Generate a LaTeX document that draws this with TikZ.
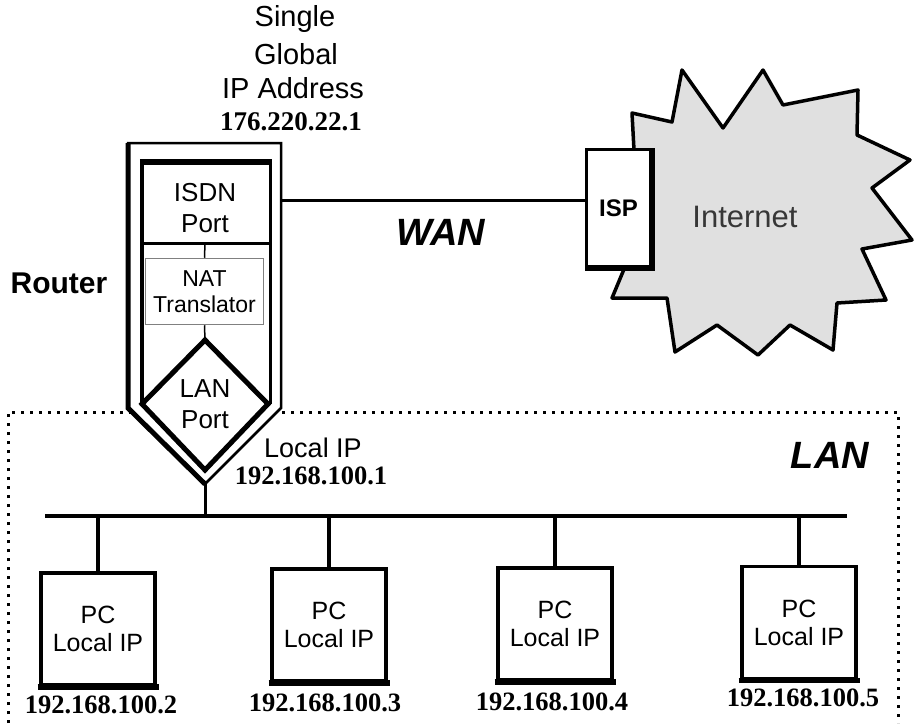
\documentclass[tikz,border=0pt]{standalone}
\usepackage{fontspec}
\setmainfont{Liberation Serif}
\setsansfont{Liberation Sans}
\definecolor{cloudgray}{RGB}{224,224,224}
\definecolor{txtgray}{RGB}{55,55,55}
\begin{document}
\begin{tikzpicture}[x=1pt,y=-1pt,
  sflabel/.style={font=\sffamily\fontsize{26}{31}\selectfont, align=center, inner sep=0pt},
  toplabel/.style={font=\sffamily\fontsize{29}{31}\selectfont, inner sep=0pt},
  iplabel/.style={font=\bfseries\fontsize{26.5}{28}\selectfont, inner sep=0pt},
  biglabel/.style={font=\sffamily\bfseries\itshape\fontsize{38}{40}\selectfont, inner sep=0pt},
  pcbox/.style={draw, line width=3.5pt, fill=white, minimum width=114pt, minimum height=112pt,
     align=center, inner sep=0pt, font=\sffamily\fontsize{25}{28}\selectfont},
  lanedge/.style={line width=3pt, dash pattern=on 3pt off 6pt},
  wire/.style={line width=3pt},
  buswire/.style={line width=4pt}]
\useasboundingbox (0,0) rectangle (915,723);

% LAN dotted frame
\coordinate (lanBL) at (8,723);
\coordinate (lanTL) at (8,412);
\coordinate (lanTR) at (898,412);
\coordinate (lanBR) at (898,723);
\draw[lanedge] (lanBL) -- (lanTL) -- (lanTR) -- (lanBR);

% Internet cloud
\filldraw[fill=cloudgray, line width=3.5pt, line join=round]
  (632,113) -- (672,122) -- (682,70) -- (723,128) -- (763,70) -- (783,105) -- (858,90)
  -- (857,135) -- (910,160) -- (872,188) -- (912,240) -- (862,249) -- (886,300)
  -- (837,303) -- (833,350) -- (790,325) -- (758,355) -- (717,325) -- (675,352)
  -- (667,298) -- (612,298) -- (627,262) -- (634,150) -- cycle;
\node[font=\sffamily\fontsize{31}{34}\selectfont, text=txtgray, inner sep=0pt] (internet) at (745,217) {Internet};

% ISP box
\node[draw, line width=3pt, fill=white, minimum width=64pt, minimum height=117pt,
      inner sep=0pt, font=\sffamily\bfseries\fontsize{24}{26}\selectfont] (isp) at (618.5,208) {ISP};
\draw[line width=5pt] (isp.north east) -- (isp.south east) -- (isp.south west);

% Router outer shell
\coordinate (rTL) at (128,143);
\coordinate (rTR) at (281,143);
\coordinate (rRB) at (281,408);
\coordinate (rBot) at (205,484);
\coordinate (rLB) at (128,408);
\filldraw[fill=white, line width=2.5pt, line join=miter] (rTL) -- (rTR) -- (rRB) -- (rBot) -- (rLB) -- cycle;
\draw[line width=5pt, line join=miter] (rTL) -- (rLB) -- (rBot);

% Router inner shell
\coordinate (iTL) at (142,162);
\coordinate (iTR) at (270,162);
\coordinate (iLB) at (142,404);
\coordinate (iRB) at (270,404);
\draw[line width=3pt] (iRB) -- (iTR);
\draw[line width=4.5pt] (iLB) -- (iTL);
\draw[line width=5.5pt] ([xshift=-2.25pt]iTL) -- ([xshift=1.5pt]iTR);
\coordinate (divL) at (142,243);
\coordinate (divR) at (270,243);
\coordinate (divM) at (205,243);
\draw[wire] (divL) -- (divR);
\node[sflabel] (isdn) at (205,208) {ISDN\\Port};

% NAT translator
\node[draw=gray, line width=1.5pt, minimum width=118pt, minimum height=66pt, inner sep=0pt,
      align=center, font=\sffamily\fontsize{23}{26}\selectfont] (nat) at (204.5,291.5) {NAT\\Translator};
\draw[line width=1.5pt] (divM) -- (nat.north);

% LAN port diamond
\coordinate (dT) at (205,340);
\coordinate (dR) at (268,404);
\coordinate (dB) at (205,470);
\coordinate (dL) at (142,404);
\draw[line width=5pt, line join=miter] (dT) -- (dR) -- (dB) -- (dL) -- cycle;
\draw[line width=1.5pt] (nat.south) -- (dT);
\node[sflabel] (lanport) at (205,404) {LAN\\Port};

% top labels
\node[toplabel] (single) at (295,19) {Single};
\node[toplabel] (global) at (296,54) {Global};
\node[toplabel] (ipaddr) at (293,88) {IP Address};
\node[iplabel, font=\bfseries\fontsize{27}{28}\selectfont] (gip) at (291,122) {176.220.22.1};
\node[font=\sffamily\bfseries\fontsize{30}{32}\selectfont, inner sep=0pt] (router) at (59,283) {Router};

% WAN link
\coordinate (rWan) at (281,200);
\draw[wire] (rWan) -- (rWan -| isp.west);
\node[biglabel] (wan) at (441,232) {WAN};
\node[biglabel] (lan) at (830,455) {LAN};

% router local IP
\node[sflabel, font=\sffamily\fontsize{27}{31}\selectfont] (locip) at (313,448) {Local IP};
\node[iplabel] (rip) at (311,476) {192.168.100.1};

% bus
\coordinate (busL) at (45,516);
\coordinate (busR) at (847,516);
\draw[buswire] (busL) -- (busR);
\draw[wire] (rBot) -- (rBot |- busL);

% PCs
\node[pcbox] (pc1) at (98,629) {PC\\Local IP};
\node[pcbox] (pc2) at (329,625) {PC\\Local IP};
\node[pcbox] (pc3) at (555,624) {PC\\Local IP};
\node[pcbox] (pc4) at (799,622.5) {PC\\Local IP};
\foreach \p in {pc1,pc2,pc3,pc4}{
  \draw[line width=3.5pt] (\p.north) -- (\p.north |- busL);
  \draw[line width=5.5pt] ([xshift=-1.75pt]\p.south west) -- ([xshift=1.75pt]\p.south east);
}
\node[iplabel] (ip2) at (101,705) {192.168.100.2};
\node[iplabel] (ip3) at (325,703) {192.168.100.3};
\node[iplabel] (ip4) at (552,702) {192.168.100.4};
\node[iplabel] (ip5) at (803,698) {192.168.100.5};
\end{tikzpicture}
\end{document}
